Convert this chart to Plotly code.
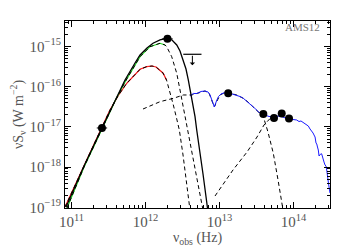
import numpy as np
import plotly.graph_objects as go

# ---- data (log10 nu [Hz], log10 nuS_nu [W m^-2]) ----
total_lognu = [10.926, 11.169, 11.412, 11.588, 11.723, 11.858, 11.926, 12.020, 12.101, 12.196,
               12.286, 12.358, 12.422, 12.466, 12.511, 12.547, 12.578, 12.624, 12.669, 12.692,
               12.736, 12.777, 12.818, 12.841]
total_logS = [-18.993, -17.973, -17.027, -16.331, -15.833, -15.410, -15.211, -15.037, -14.920, -14.838,
              -14.796, -14.838, -14.963, -15.112, -15.336, -15.560, -15.833, -16.249, -16.746, -17.077,
              -17.600, -18.172, -18.744, -19.067]

green_lognu = [10.939, 11.169, 11.412, 11.588, 11.723, 11.858, 11.926, 12.061, 12.196, 12.264]
green_logS = [-19.017, -17.998, -17.052, -16.356, -15.883, -15.460, -15.254, -15.005, -14.920, -14.963]
green_tail_lognu = [12.286, 12.354, 12.422, 12.466, 12.511, 12.557, 12.642, 12.709, 12.777]
green_tail_logS = [-15.005, -15.254, -15.667, -16.082, -16.498, -16.995, -17.774, -18.420, -19.067]

red_lognu = [10.912, 11.169, 11.412, 11.520, 11.628, 11.746, 11.858, 11.926, 12.016, 12.088,
             12.142, 12.196, 12.236, 12.284]
red_logS = [-18.993, -17.948, -17.002, -16.580, -16.231, -15.915, -15.684, -15.567, -15.502, -15.485,
            -15.510, -15.585, -15.659, -15.833]
red_tail_lognu = [12.331, 12.376, 12.422, 12.457, 12.507, 12.554, 12.601]
red_tail_logS = [-16.132, -16.455, -16.803, -17.077, -17.699, -18.346, -19.067]

warm_lognu = [11.966, 12.061, 12.196, 12.376, 12.511, 12.624, 12.696, 12.804, 12.858, 12.899,
              12.930, 12.966, 13.007, 13.074, 13.128, 13.232, 13.322, 13.385, 13.480, 13.592,
              13.655, 13.727, 13.791, 13.841, 13.854]
warm_logS = [-16.555, -16.480, -16.373, -16.289, -16.206, -16.206, -16.169, -16.107, -16.157, -16.356,
             -16.505, -16.356, -16.206, -16.144, -16.157, -16.206, -16.289, -16.381, -16.555, -16.746,
             -17.127, -17.657, -18.321, -18.893, -19.017]

hot_lognu = [12.939, 13.034, 13.182, 13.372, 13.507, 13.601, 13.709]
hot_logS = [-18.719, -18.470, -18.072, -17.624, -17.251, -16.953, -16.741]

blue_lognu = [12.601, 12.646, 12.696, 12.750, 12.804, 12.845, 12.872, 12.899, 12.930, 12.959,
              12.986, 13.020, 13.074, 13.128, 13.182, 13.232, 13.277, 13.322, 13.372, 13.435,
              13.480, 13.524, 13.561, 13.615, 13.669, 13.727, 13.777, 13.841, 13.885, 13.912,
              13.953, 13.993, 14.043, 14.074, 14.101, 14.132, 14.169, 14.200, 14.223, 14.246,
              14.264, 14.277, 14.291, 14.304, 14.314, 14.324, 14.335, 14.345, 14.358, 14.372,
              14.381, 14.392, 14.403, 14.412, 14.426, 14.439, 14.449, 14.459, 14.470, 14.480, 14.493]
blue_logS = [-16.231, -16.169, -16.169, -16.119, -16.107, -16.132, -16.206, -16.356, -16.505, -16.356,
             -16.244, -16.182, -16.144, -16.157, -16.182, -16.206, -16.244, -16.289, -16.368, -16.455,
             -16.542, -16.622, -16.667, -16.704, -16.741, -16.746, -16.729, -16.746, -16.774, -16.754,
             -16.786, -16.816, -16.828, -16.866, -16.853, -16.896, -16.940, -16.978, -17.052, -17.102,
             -17.152, -17.201, -17.251, -17.400, -17.425, -17.500, -17.575, -17.724, -17.699, -17.662,
             -17.674, -17.774, -17.823, -17.873, -17.948, -17.973, -18.072, -18.172, -18.371, -18.495, -18.644]

obs_nu = [2.58e11, 1.98e12, 1.31e13, 3.91e13, 5.45e13, 6.93e13, 8.69e13]
obs_S = [9.4e-18, 1.55e-15, 6.85e-17, 2.09e-17, 1.66e-17, 2.15e-17, 1.62e-17]
obs_err_dex = [0.07, 0.07, 0, 0, 0, 0, 0]

ul_nu = [4.3e12]
ul_S = [6.4e-16]

x_tick_vals = [1e11, 1e12, 1e13, 1e14]
x_tick_text = ["10<sup>11</sup>", "10<sup>12</sup>", "10<sup>13</sup>", "10<sup>14</sup>"]
y_tick_vals = [1e-19, 1e-18, 1e-17, 1e-16, 1e-15]
y_tick_text = ["10<sup>\u221219</sup>", "10<sup>\u221218</sup>", "10<sup>\u221217</sup>",
               "10<sup>\u221216</sup>", "10<sup>\u221215</sup>"]
x_minor = [m * 10.0 ** e for e in range(10, 15) for m in range(2, 10)]
y_minor = [m * 10.0 ** e for e in range(-20, -14) for m in range(2, 10)]


def pw(a):
    return np.power(10.0, np.asarray(a, dtype=float))


DASH = "4px,3px"
fig = go.Figure()

fig.add_trace(go.Scatter(x=pw(red_lognu), y=pw(red_logS), mode="lines",
                         line=dict(color="#ff1a1a", width=1.2)))
fig.add_trace(go.Scatter(x=pw(green_lognu), y=pw(green_logS), mode="lines",
                         line=dict(color="#22dd22", width=1.2)))
fig.add_trace(go.Scatter(x=pw(red_lognu + red_tail_lognu), y=pw(red_logS + red_tail_logS), mode="lines",
                         line=dict(color="black", width=1, dash=DASH)))
fig.add_trace(go.Scatter(x=pw(green_lognu + green_tail_lognu), y=pw(green_logS + green_tail_logS),
                         mode="lines", line=dict(color="black", width=1, dash=DASH)))
fig.add_trace(go.Scatter(x=pw(warm_lognu), y=pw(warm_logS), mode="lines",
                         line=dict(color="black", width=1, dash=DASH)))
fig.add_trace(go.Scatter(x=pw(hot_lognu), y=pw(hot_logS), mode="lines",
                         line=dict(color="black", width=1, dash=DASH)))
fig.add_trace(go.Scatter(x=pw(blue_lognu), y=pw(blue_logS), mode="lines",
                         line=dict(color="#1a1aff", width=1)))
fig.add_trace(go.Scatter(x=pw(total_lognu), y=pw(total_logS), mode="lines",
                         line=dict(color="black", width=1.3)))

onu = np.array(obs_nu)
err = np.array(obs_err_dex)
fig.add_trace(go.Scatter(
    x=onu, y=obs_S, mode="markers",
    marker=dict(color="black", size=8),
    error_x=dict(type="data", symmetric=False,
                 array=onu * (10 ** err - 1), arrayminus=onu * (1 - 10 ** (-err)),
                 color="black", thickness=1, width=0)))

fig.add_trace(go.Scatter(x=ul_nu, y=ul_S, mode="markers",
                         marker=dict(symbol="line-ew", size=13, line=dict(color="black", width=1.2))))
fig.add_annotation(x=np.log10(ul_nu[0]), y=np.log10(ul_S[0]) - 11 / 40.2, xref="x", yref="y",
                   ax=0, ay=-11, text="", showarrow=True, arrowhead=1, arrowsize=0.9,
                   arrowwidth=1, arrowcolor="black")

fig.add_annotation(x=0.97, y=0.968, xref="paper", yref="paper", xanchor="right", yanchor="middle",
                   text="AMS12", showarrow=False,
                   font=dict(family="Liberation Serif", size=11, color="#777"))

tickfont = dict(family="Liberation Serif", size=15, color="#555")
titlefont = dict(family="Liberation Serif", size=14, color="#555")
axis_common = dict(type="log", showline=True, linecolor="black", linewidth=1, mirror="allticks",
                   ticks="inside", ticklen=6, tickwidth=1, tickcolor="black", showgrid=False,
                   zeroline=False, tickfont=tickfont, automargin=False)

fig.update_xaxes(range=[10.912, 14.493], tickvals=x_tick_vals, ticktext=x_tick_text,
                 minor=dict(ticks="inside", ticklen=3, tickcolor="black", tickvals=x_minor),
                 title=dict(text="\u03bd<sub>obs</sub> (Hz)", font=titlefont, standoff=2),
                 **axis_common)
fig.update_yaxes(range=[-19.017, -14.366], tickvals=y_tick_vals, ticktext=y_tick_text,
                 minor=dict(ticks="inside", ticklen=3, tickcolor="black", tickvals=y_minor),
                 title=dict(text="\u03bdS<sub>\u03bd</sub> (W m<sup>\u22122</sup>)", font=titlefont, standoff=2),
                 **axis_common)

fig.update_layout(width=350, height=250, margin=dict(l=65, r=20, t=21, b=42),
                  paper_bgcolor="white", plot_bgcolor="white", showlegend=False)

fig.write_html("out.html", config={"displayModeBar": False},
               post_script="document.body.style.margin='0px';document.body.style.overflow='hidden';")
